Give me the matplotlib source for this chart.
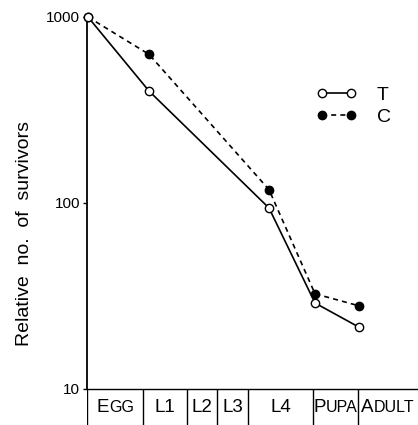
import matplotlib
matplotlib.use("Agg")
import matplotlib.pyplot as plt
from matplotlib.offsetbox import TextArea, HPacker, AnchoredOffsetbox

plt.rcParams['font.family'] = ['Liberation Sans', 'DejaVu Sans']

# development time axis (arbitrary units) and stage boundaries
stage_edges = [0, 56, 100, 130, 161, 226, 271, 331]
# stage labels: (large first part, small-caps rest)
stage_labels = [("E", "GG"), ("L1", ""), ("L2", ""), ("L3", ""),
                ("L4", ""), ("P", "UPA"), ("A", "DULT")]

pt_x = [1, 62, 182, 228, 272]
T_vals = [1000, 400, 94, 29, 21.5]
C_vals = [1000, 630, 118, 32.5, 28]

W, H = 418, 425
fig = plt.figure(figsize=(W / 100, H / 100), dpi=100)

ax = fig.add_axes([87 / W, (H - 389) / H, 331 / W, (389 - 17) / H])
ax.plot(pt_x, C_vals, color='black', lw=1.2, ls=(0, (3, 2.5)), marker='o', ms=6,
        mfc='black', mec='black', label='C', clip_on=False, zorder=3)
ax.plot(pt_x, T_vals, color='black', lw=1.2, marker='o', ms=6,
        mfc='white', mec='black', mew=1.0, label='T', clip_on=False, zorder=4)

ax.set_yscale('log')
ax.set_ylim(10, 1000)
ax.set_xlim(stage_edges[0], stage_edges[-1])
ax.set_yticks([10, 100, 1000])
ax.set_yticklabels(['10', '100', '1000'])
ax.minorticks_off()
ax.tick_params(axis='y', length=3, width=1, pad=2, labelsize=11)
ax.set_xticks([])
for s in ['top', 'right']:
    ax.spines[s].set_visible(False)
ax.spines['left'].set_linewidth(1.3)
ax.spines['bottom'].set_linewidth(1.0)

fig.text(25 / W, 1 - 233 / H, 'Relative  no.  of  survivors', rotation=90,
         ha='center', va='center', fontsize=14)

handles, labels = ax.get_legend_handles_labels()
ax.legend(handles[::-1], labels[::-1], loc='upper left',
          bbox_to_anchor=(0.64, 0.86), frameon=False,
          numpoints=2, handlelength=2.1, handletextpad=1.0, labelspacing=0.2,
          fontsize=14)

# stage bar below the x axis
sb = fig.add_axes([87 / W, 0, 331 / W, (H - 389) / H])
sb.set_xlim(stage_edges[0], stage_edges[-1])
sb.set_ylim(0, 1)
sb.axis('off')
for e in stage_edges[:-1]:
    sb.axvline(e, color='black', lw=1.0)
for i, (big, small) in enumerate(stage_labels):
    xc = (stage_edges[i] + stage_edges[i + 1]) / 2
    parts = [TextArea(big, textprops=dict(fontsize=13.5))]
    if small:
        parts.append(TextArea(small, textprops=dict(fontsize=11.5)))
    box = HPacker(children=parts, align='baseline', pad=0, sep=0)
    anc = AnchoredOffsetbox(loc='center', child=box, pad=0, frameon=False,
                            bbox_to_anchor=(xc, 0.5), bbox_transform=sb.transData,
                            borderpad=0)
    sb.add_artist(anc)

fig.savefig('out.png', dpi=100)
